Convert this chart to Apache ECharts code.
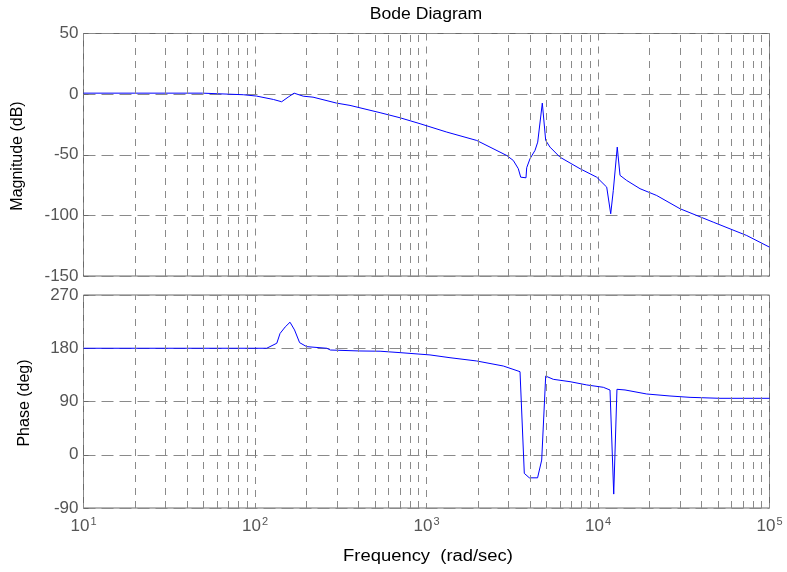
<!DOCTYPE html>
<html>
<head>
<meta charset="utf-8">
<title>Bode Diagram</title>
<script src="https://cdn.jsdelivr.net/npm/echarts@6/dist/echarts.min.js"></script>
<style>
  html, body { margin: 0; padding: 0; background: #fff; }
  #chart { width: 787px; height: 572px; }
</style>
</head>
<body>
<div id="chart"></div>
<script>
// Magnitude response: frequency (rad/sec) and gain (dB)
const magFreq = [10, 49.3, 50.5, 85.5, 87, 102, 128, 143, 156, 169, 191, 218, 299, 358, 536, 701, 917,
  1312, 1962, 2935, 3207, 3430, 3543, 3620, 3803, 3839, 4013, 4292, 4451, 4734, 4955, 5250, 6003,
  7853, 9826, 11240, 11860, 12280, 12950, 13440, 14700, 17580, 21990, 30070, 47010, 73650, 100000];
const magDb = [0.8, 0.8, -0.5, -0.5, -1.3, -1.6, -4.4, -6.3, -2.5, 0.8, -1.7, -2.5, -7.4, -9.3, -15.3, -19.5, -24.4,
  -31.3, -38.2, -50.6, -54.7, -61.5, -68.5, -69, -69, -60.7, -53.3, -46.4, -39.6, -7.4, -38.2, -43.7, -52,
  -61.5, -68.5, -76.7, -98.7, -79.4, -43.7, -67, -71.2, -78, -83.6, -94.5, -105.6, -116.6, -126.2];

// Phase response: frequency (rad/sec) and phase (deg)
const phaseFreq = [10, 117, 134, 140, 150, 160, 170, 182, 200, 262, 275, 409, 536, 701, 1048, 1371, 1962,
  2804, 3510, 3556, 3718, 3977, 4443, 4696, 4955, 5488, 6867, 8594, 10740, 11750, 12350, 12900,
  14370, 19230, 26290, 34400, 51450, 100000];
const phaseDeg = [180, 180, 188.5, 205, 216, 224, 211, 189.5, 182.7, 180, 177, 175.4, 175, 172.6, 168.7, 164, 158.5,
  150, 140.4, 139.4, -31.5, -39, -39, -9, 133, 127.5, 123.5, 118, 114, 109.4, -66.5, 110.6,
  109.5, 102.7, 99.3, 97, 95.4, 95.4];

// Axis ranges and tick steps
const freqDecades = [10, 100, 1000, 10000, 100000];
const magTicks = [-150, -100, -50, 0, 50];
const phaseTicks = [-90, 0, 90, 180, 270];

// Intermediate log grid positions (2..9 within each decade)
const minorFreqs = [];
for (let d = 0; d < freqDecades.length - 1; d++) {
  for (let m = 2; m <= 9; m++) minorFreqs.push(m * freqDecades[d]);
}

const FONT = '"Liberation Sans", Arial, Helvetica, sans-serif';
const gridColor = '#8a8a8a';
const frameColor = '#6a6a6a';
const labelColor = '#555555';

function pairs(xs, ys) { return xs.map((x, i) => [x, ys[i]]); }

function minorLines() {
  return {
    silent: true,
    symbol: 'none',
    animation: false,
    label: { show: false },
    lineStyle: { type: [7, 6], color: gridColor, width: 1 },
    data: minorFreqs.map(f => ({ xAxis: f }))
  };
}

const xAxisBase = {
  type: 'log',
  logBase: 10,
  min: freqDecades[0],
  max: freqDecades[freqDecades.length - 1],
  axisLine: { show: false },
  axisTick: { show: true, inside: true, length: 5, lineStyle: { color: frameColor } },
  splitLine: { show: true, lineStyle: { type: [7, 6], color: gridColor, width: 1 } },
  minorTick: { show: false },
  minorSplitLine: { show: false }
};

const yAxisBase = {
  type: 'value',
  axisLine: { show: false },
  axisTick: { show: true, inside: true, length: 5, lineStyle: { color: frameColor } },
  splitLine: { show: true, lineStyle: { type: [12, 6], color: gridColor, width: 1 } },
  axisLabel: { color: labelColor, fontFamily: FONT, fontSize: 17, margin: 5 }
};

const chart = echarts.init(document.getElementById('chart'), null, { renderer: 'canvas' });

chart.setOption({
  animation: false,
  backgroundColor: '#ffffff',
  grid: [
    { left: 83.5, right: 17.5, top: 33.5, height: 242.5, show: true, borderColor: frameColor, borderWidth: 1, backgroundColor: 'transparent' },
    { left: 83.5, right: 17.5, top: 295, height: 213, show: true, borderColor: frameColor, borderWidth: 1, backgroundColor: 'transparent' }
  ],
  xAxis: [
    Object.assign({}, xAxisBase, { gridIndex: 0, axisLabel: { show: false } }),
    Object.assign({}, xAxisBase, {
      gridIndex: 1,
      axisLabel: {
        show: true,
        margin: 8,
        formatter: v => '{b|10}{s|' + Math.round(Math.log10(v)) + '}',
        rich: {
          b: { fontSize: 17, color: labelColor, fontFamily: FONT },
          s: { fontSize: 11, color: labelColor, fontFamily: FONT, padding: [0, 0, 10, 1] }
        }
      }
    })
  ],
  yAxis: [
    Object.assign({}, yAxisBase, {
      gridIndex: 0, min: magTicks[0], max: magTicks[magTicks.length - 1], interval: 50
    }),
    Object.assign({}, yAxisBase, {
      gridIndex: 1, min: phaseTicks[0], max: phaseTicks[phaseTicks.length - 1], interval: 90
    })
  ],
  series: [
    {
      name: 'Magnitude',
      type: 'line',
      xAxisIndex: 0, yAxisIndex: 0,
      data: pairs(magFreq, magDb),
      showSymbol: false,
      lineStyle: { color: '#0000ff', width: 1 },
      markLine: minorLines(),
      z: 3
    },
    {
      name: 'Phase',
      type: 'line',
      xAxisIndex: 1, yAxisIndex: 1,
      data: pairs(phaseFreq, phaseDeg),
      showSymbol: false,
      lineStyle: { color: '#0000ff', width: 1 },
      markLine: minorLines(),
      z: 3
    }
  ],
  graphic: [
    { type: 'text', x: 426, y: 15, scaleX: 1.1, style: { text: 'Bode Diagram', font: '16px ' + FONT, fill: '#000', textAlign: 'center', textVerticalAlign: 'middle' } },
    { type: 'text', x: 18, y: 156, rotation: Math.PI / 2, style: { text: 'Magnitude (dB)', font: '16px ' + FONT, fill: '#000', textAlign: 'center', textVerticalAlign: 'middle' } },
    { type: 'text', x: 25, y: 403, rotation: Math.PI / 2, style: { text: 'Phase (deg)', font: '16px ' + FONT, fill: '#000', textAlign: 'center', textVerticalAlign: 'middle' } },
    { type: 'text', x: 428, y: 557, scaleX: 1.15, style: { text: 'Frequency  (rad/sec)', font: '16px ' + FONT, fill: '#000', textAlign: 'center', textVerticalAlign: 'middle' } }
  ]
});
</script>
</body>
</html>
